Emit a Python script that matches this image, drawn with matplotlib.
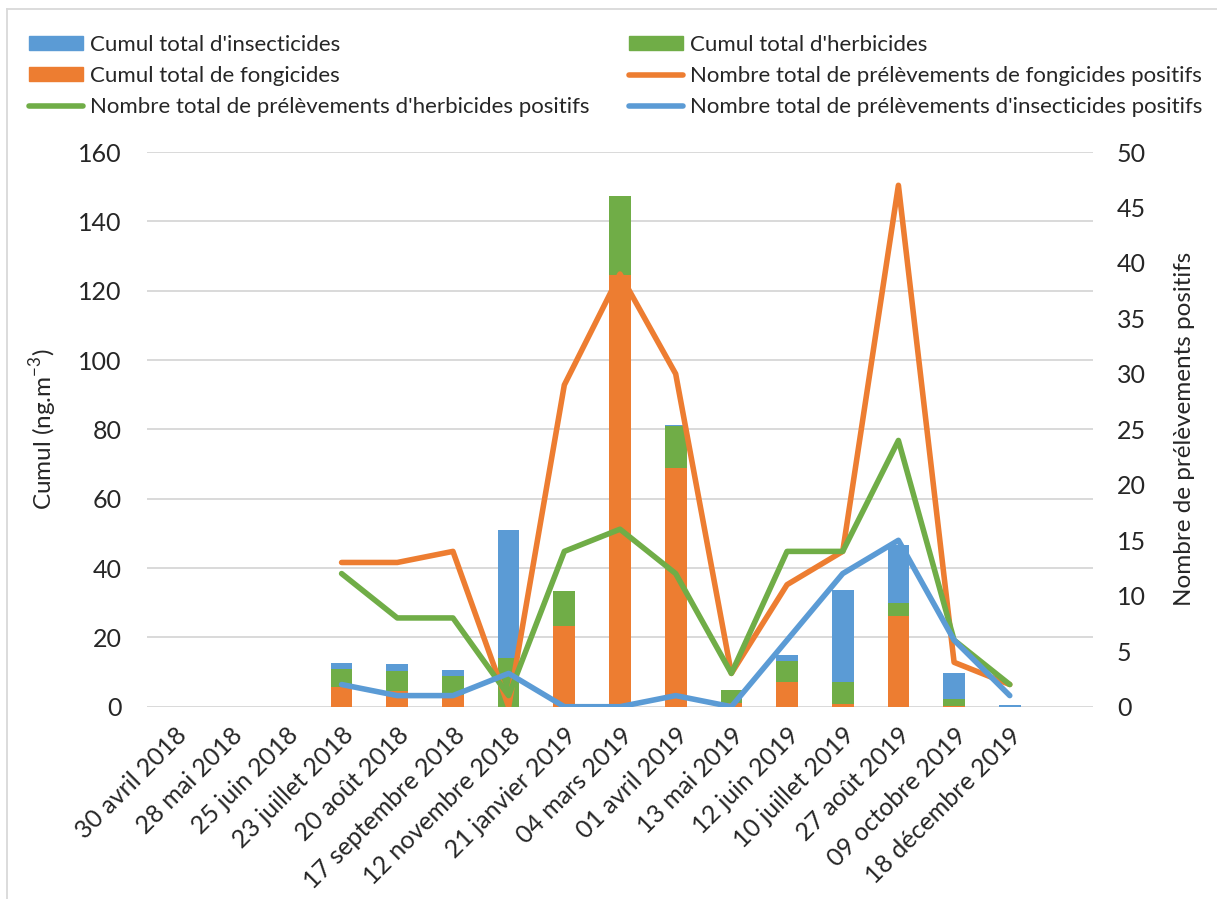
import numpy as np
import matplotlib
matplotlib.use("Agg")
import matplotlib.pyplot as plt
from matplotlib.patches import Patch
from matplotlib.lines import Line2D

plt.rcParams['font.family'] = ['Lato', 'DejaVu Sans']

categories = ["30 avril 2018", "28 mai 2018", "25 juin 2018", "23 juillet 2018",
              "20 août 2018", "17 septembre 2018", "12 novembre 2018",
              "21 janvier 2019", "04 mars 2019", "01 avril 2019", "13 mai 2019",
              "12 juin 2019", "10 juillet 2019", "27 août 2019",
              "09 octobre 2019", "18 décembre 2019", ""]

nan = np.nan
# Cumulative concentrations (ng.m-3), stacked bars
cumul_fongicides = [nan, nan, nan, 5.8, 4.4, 3.5, 0.0, 23.4, 124.5, 68.9, 1.0, 7.0, 0.7, 26.2, 0.3, 0.0, nan]
cumul_herbicides = [nan, nan, nan, 5.2, 6.0, 5.4, 14.0, 10.0, 22.9, 12.1, 3.7, 6.3, 6.3, 3.7, 1.8, 0.0, nan]
cumul_insecticides = [nan, nan, nan, 1.6, 1.8, 1.8, 37.0, 0.0, 0.0, 0.3, 0.0, 1.5, 26.7, 16.6, 7.7, 0.6, nan]

# Number of positive samples (right axis)
n_fongicides = [nan, nan, nan, 13, 13, 14, 0, 29, 39, 30, 3, 11, 14, 47, 4, 2, nan]
n_herbicides = [nan, nan, nan, 12, 8, 8, 1, 14, 16, 12, 3, 14, 14, 24, 6, 2, nan]
n_insecticides = [nan, nan, nan, 2, 1, 1, 3, 0, 0, 1, 0, 6, 12, 15, 6, 1, nan]

left_ticks = list(range(0, 161, 20))
right_ticks = list(range(0, 51, 5))

BLUE = '#5B9BD5'
ORANGE = '#ED7D31'
GREEN = '#70AD47'
GRID = '#D9D9D9'
TXT = '#262626'

W, H = 1217, 899
fig = plt.figure(figsize=(W / 100, H / 100), dpi=100)

x0, x1 = 146.7, 1093.3
y0, y1 = 706.7, 152.0
ax = fig.add_axes([x0 / W, 1 - y0 / H, (x1 - x0) / W, (y0 - y1) / H])

x = np.arange(len(categories))
f = np.array(cumul_fongicides, dtype=float)
h = np.array(cumul_herbicides, dtype=float)
i = np.array(cumul_insecticides, dtype=float)
bw = 0.39
ax.bar(x, f, width=bw, color=ORANGE, zorder=2)
ax.bar(x, h, bottom=np.nan_to_num(f), width=bw, color=GREEN, zorder=2)
ax.bar(x, i, bottom=np.nan_to_num(f) + np.nan_to_num(h), width=bw, color=BLUE, zorder=2)

ax.set_xlim(-0.5, len(categories) - 0.5)
ax.set_ylim(0, 160)
ax.set_yticks(left_ticks)
ax.yaxis.grid(True, color=GRID, lw=1.4, zorder=0)
ax.set_axisbelow(True)
for s in ax.spines.values():
    s.set_visible(False)
ax.tick_params(axis='both', length=0, labelsize=18, labelcolor=TXT)
ax.tick_params(axis='y', pad=18)
ax.set_xticks(x)
ax.set_xticklabels(categories, rotation=45, ha='right', rotation_mode='anchor')
ax.tick_params(axis='x', pad=12)
ax.set_ylabel('Cumul (ng.m$^{\\mathregular{-3}}$)', fontsize=17.5, color=TXT)
ax.yaxis.set_label_coords((59 - x0) / (x1 - x0), 0.5)

ax2 = ax.twinx()
ax2.set_ylim(0, 50)
ax2.set_yticks(right_ticks)
for s in ax2.spines.values():
    s.set_visible(False)
ax2.tick_params(axis='y', length=0, labelsize=18, labelcolor=TXT, pad=17)
lw = 4.0
kw = dict(lw=lw, solid_joinstyle='round', solid_capstyle='round')
ax2.plot(x, n_fongicides, color=ORANGE, **kw)
ax2.plot(x, n_herbicides, color=GREEN, **kw)
ax2.plot(x, n_insecticides, color=BLUE, **kw)
ax2.set_ylabel('Nombre de prélèvements positifs', fontsize=17.5, color=TXT)
ax2.yaxis.set_label_coords((1174 - x0) / (x1 - x0), 0.5)

# Legend (two columns, row-major as in reference)
col1 = [Patch(color=BLUE, label="Cumul total d'insecticides"),
        Patch(color=ORANGE, label="Cumul total de fongicides"),
        Line2D([], [], color=GREEN, lw=lw, solid_capstyle='round',
               label="Nombre total de prélèvements d'herbicides positifs")]
col2 = [Patch(color=GREEN, label="Cumul total d'herbicides"),
        Line2D([], [], color=ORANGE, lw=lw, solid_capstyle='round',
               label="Nombre total de prélèvements de fongicides positifs"),
        Line2D([], [], color=BLUE, lw=lw, solid_capstyle='round',
               label="Nombre total de prélèvements d'insecticides positifs")]
lkw = dict(loc='upper left', frameon=False, fontsize=16, handlelength=2.45,
           handletextpad=0.3, labelspacing=0.5, borderpad=0, borderaxespad=0,
           labelcolor=TXT, handleheight=0.6)
fig.legend(handles=col1, bbox_to_anchor=(29 / W, 1 - 35 / H), **lkw)
fig.legend(handles=col2, bbox_to_anchor=(629 / W, 1 - 35 / H), **lkw)

# chart frame
fig.add_artist(Line2D([7 / W, 7 / W], [0, 1 - 9 / H], transform=fig.transFigure, color=GRID, lw=1.3))
fig.add_artist(Line2D([7 / W, 1], [1 - 9 / H, 1 - 9 / H], transform=fig.transFigure, color=GRID, lw=1.3))

fig.savefig('out.png', dpi=100)
